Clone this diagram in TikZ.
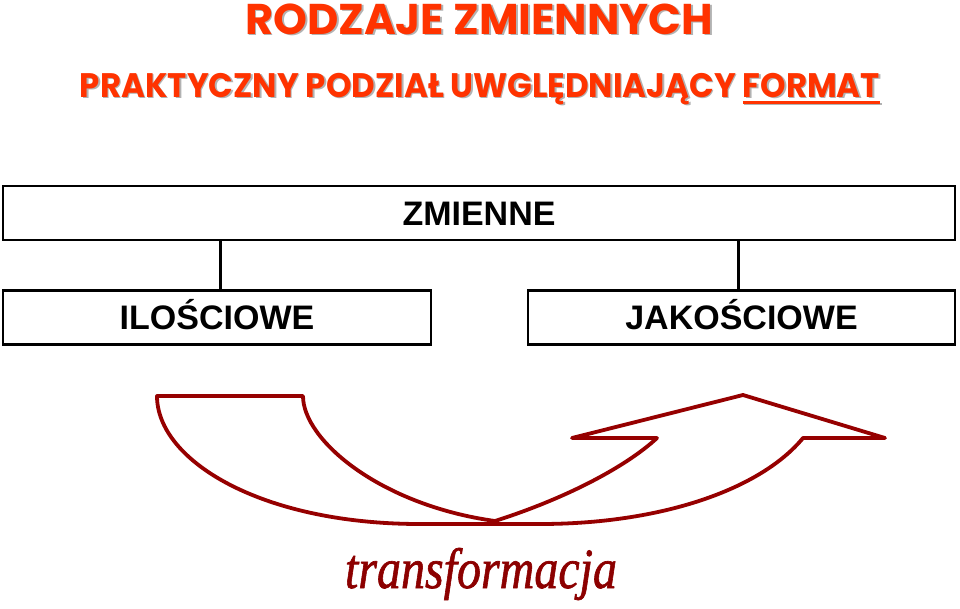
\documentclass[tikz,border=0pt]{standalone}
\usepackage{fontspec}
\usepackage{graphicx}
\setmainfont{Liberation Sans}
\newfontfamily\titlefont{Poppins}
\newfontfamily\serifit{Liberation Serif}[ItalicFeatures={FakeBold=1.2}]
\definecolor{titlered}{RGB}{255,51,0}
\definecolor{shadowgray}{RGB}{178,178,178}
\definecolor{ribbonred}{RGB}{150,0,0}
\definecolor{transred}{RGB}{140,0,0}
\newcommand\ulformat[1]{\setbox0\hbox{#1}\rlap{\rule[-6.5pt]{\wd0}{2.4pt}}\box0}
\newcommand\lineone{\resizebox{468pt}{\height}{\titlefont\bfseries\fontsize{43}{50}\selectfont RODZAJE ZMIENNYCH}}
\newcommand\linetwo{\resizebox{800pt}{\height}{\titlefont\bfseries\fontsize{34}{40}\selectfont PRAKTYCZNY PODZIAŁ UWGLĘDNIAJĄCY \ulformat{FORMAT}}}
\tikzset{
  box/.style={draw=black, line width=2.8pt, inner sep=0pt, minimum height=54pt,
    text height=24pt, text depth=0pt, font=\bfseries\fontsize{34}{40}\selectfont},
  link/.style={draw=black, line width=3pt},
  ribbon/.style={draw=ribbonred, line width=3.8pt, line join=round}
}
\begin{document}
\begin{tikzpicture}[x=1pt,y=-1pt]
\useasboundingbox (0,0) rectangle (960,608);
\fill[white] (0,0) rectangle (960,608);
% titles
\node[anchor=base, text=shadowgray, inner sep=0pt] (t1s) at (481,35.5) {\lineone};
\node[anchor=base, text=titlered, inner sep=0pt] (t1) at (479,34) {\lineone};
\node[anchor=base, text=shadowgray, inner sep=0pt] (t2s) at (481.5,98.5) {\linetwo};
\node[anchor=base, text=titlered, inner sep=0pt] (t2) at (480,97) {\linetwo};
% boxes
\node[box, minimum width=952pt] (zm) at (479,213) {ZMIENNE};
\node[box, minimum width=428pt] (il) at (217,317.5) {ILOŚCIOWE};
\node[box, minimum width=427pt] (ja) at (741.5,317.5) {JAKOŚCIOWE};
\coordinate (c1) at (220,0);
\coordinate (c2) at (738,0);
\draw[link] (zm.south -| c1) -- (il.north -| c1);
\draw[link] (zm.south -| c2) -- (ja.north -| c2);
% ribbon arrow
\draw[ribbon] (303,396) -- (157,396)
  .. controls (157,460) and (260,524) .. (420,524)
  -- (540,524)
  .. controls (660,524) and (760,490) .. (803,438)
  -- (885,438) -- (743,395) -- (572,438) -- (657,438)
  .. controls (628,465) and (570,497) .. (495,521)
  .. controls (380,505) and (303,440) .. cycle;
\node[anchor=base, text=transred, inner sep=0pt] (tr) at (481,588) {\resizebox{272pt}{\height}{\serifit\itshape\fontsize{57}{60}\selectfont transformacja}};
\end{tikzpicture}
\end{document}
